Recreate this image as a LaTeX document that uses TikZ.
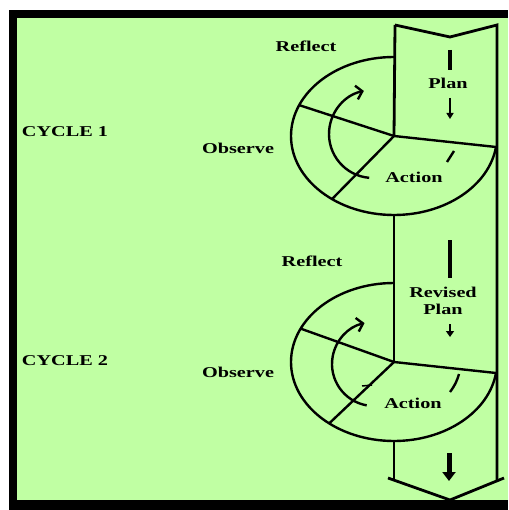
\documentclass[tikz,border=0pt]{standalone}
\usepackage{fontspec}
\newfontfamily\labelfont{Liberation Serif}[FakeStretch=1.35]
\usetikzlibrary{arrows.meta,calc}
\begin{document}
\begin{tikzpicture}[x=1pt,y=-1pt,
		ring/.style={line width=2.4pt,color=black},
		col/.style={line width=2.8pt,color=black,line join=miter},
		lab/.style={font=\labelfont\bfseries\fontsize{15}{17}\selectfont,inner sep=0pt}]
			\definecolor{paleg}{RGB}{192,255,163}
			\useasboundingbox (0,0) rectangle (508,510);
			\fill[white] (0,0) rectangle (508,510);
			\fill[black] (9,10) rectangle (508,510);
			\fill[paleg] (17,18) rectangle (508,500);
			% column
			\draw [col] (395,25) -- (450,37) -- (497,25) -- (497,481);
			\draw [col] (395,25) -- (394,136);
			\draw [col] (394,215) -- (394,362);
			\draw [col] (394,441) -- (394,480);
			\draw [col] (388,478) -- (450,500) -- (504,478);
			\draw [line width=4pt] (450,50) -- (450,70);
			\draw [line width=2pt,-{Triangle[length=6pt,width=7pt]}] (450,98) -- (450,119);
			\draw [line width=4pt] (450,240) -- (450,278);
			\draw [line width=2.5pt,-{Triangle[length=6pt,width=8pt]}] (450,324) -- (450,337);
			\draw [line width=5pt,-{Triangle[length=9pt,width=13pt]}] (449,453) -- (449,481);
			% cycle 1
			\coordinate (c1) at (394,136);
			\draw [ring] (394,57) arc[start angle=270,end angle=8,x radius=103,y radius=79];
			\draw [ring] (c1) -- ++(203:103 and 79);
			\draw [ring] (c1) -- ++(127:103 and 79);
			\draw [ring] (c1) -- ++(8:103 and 79);
			\draw [ring,-{Straight Barb[length=6pt,width=14pt]}] (373,134) ++(95:44) arc[start angle=95,end angle=258,radius=44];
			\draw [ring] (454,151) -- (447,162);
			\node [lab] (reflect1) at (306,46) {Reflect};
			\node [lab] (cycle1) at (65,132) {CYCLE 1};
			\node [lab] (observe1) at (238,148) {Observe};
			\node [lab] (action1) at (414,177) {Action};
			\node [lab] (plan1) at (448,83) {Plan};
			% cycle 2
			\coordinate (c2) at (394,362);
			\draw [ring] (394,283) arc[start angle=270,end angle=8,x radius=103,y radius=79];
			\draw [ring] (c2) -- ++(205:103 and 79);
			\draw [ring] (c2) -- ++(129:103 and 79);
			\draw [ring] (c2) -- ++(8:103 and 79);
			\draw [ring,-{Straight Barb[length=6pt,width=14pt]}] (374,364) ++(100:42) arc[start angle=100,end angle=257,radius=42];
			\draw [ring] (459,374) to[bend left=10] (450,392);
			\draw [line width=1.5pt] (362,386) -- (372,385);
			\node [lab] (reflect2) at (312,261) {Reflect};
			\node [lab] (cycle2) at (65,361) {CYCLE 2};
			\node [lab] (observe2) at (238,372) {Observe};
			\node [lab] (action2) at (413,403) {Action};
			\node [lab,align=center] (plan2) at (443,301) {Revised\\Plan};
		\end{tikzpicture}
\end{document}
